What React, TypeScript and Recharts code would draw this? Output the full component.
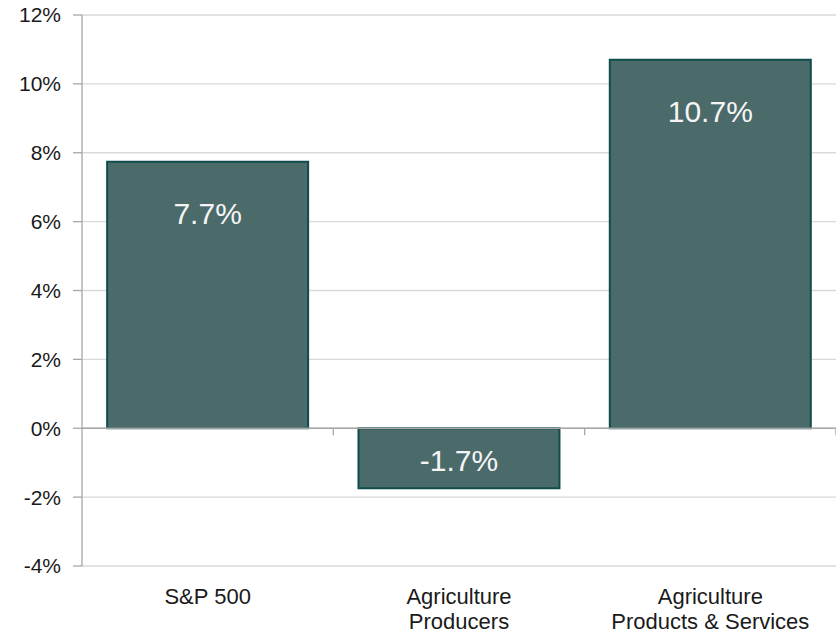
import React from 'react';
import { BarChart, Bar, XAxis, YAxis, CartesianGrid, ReferenceLine, LabelList } from 'recharts';

const categories = ['S&P 500', 'Agriculture\nProducers', 'Agriculture\nProducts & Services'];
const returns = [7.74, -1.74, 10.7];
const yTicks = [-4, -2, 0, 2, 4, 6, 8, 10, 12];

const data = categories.map((name, i) => ({ name, value: returns[i] }));

const FONT = '"Liberation Sans", Arial, sans-serif';
const AXIS_GRAY = '#a6a6a6';

const CategoryTick = (props: any) => {
  const { x, y, payload } = props;
  const lines = String(payload.value).split('\n');
  return (
    <text x={x} y={y} textAnchor="middle" fontFamily={FONT} fontSize={22} fill="#1a1a1a">
      {lines.map((l, i) => (
        <tspan key={i} x={x} dy={i === 0 ? 30 : 25}>
          {l}
        </tspan>
      ))}
    </text>
  );
};

const ZeroAxis = (props: any) => {
  const { x1, y1, x2 } = props;
  const n = categories.length;
  const step = (x2 - x1) / n;
  const ticks = [];
  for (let k = 1; k <= n; k++) ticks.push(x1 + step * k);
  return (
    <g>
      <line x1={x1} y1={y1} x2={x2} y2={y1} stroke={AXIS_GRAY} strokeWidth={1.3} />
      {ticks.map((tx, i) => (
        <line key={i} x1={tx} y1={y1} x2={tx} y2={y1 + 7} stroke={AXIS_GRAY} strokeWidth={1.3} />
      ))}
    </g>
  );
};

const BarLabel = (props: any) => {
  const { x, y, width, height, value } = props;
  const top = Math.min(y, y + height);
  const h = Math.abs(height);
  const cy = value >= 0 ? top + 52 : top + h / 2 + 2;
  return (
    <text
      x={x + width / 2}
      y={cy}
      textAnchor="middle"
      dominantBaseline="central"
      fontFamily={FONT}
      fontSize={30}
      fill="#f5f5f5"
    >
      {`${Number(value).toFixed(1)}%`}
    </text>
  );
};

export default function App() {
  return (
    <div style={{ position: 'absolute', left: 0, top: 0, background: '#fff' }}>
      <BarChart
        width={836}
        height={633}
        data={data}
        margin={{ top: 15, right: 0, bottom: 0, left: 0 }}
        barCategoryGap="10%"
      >
        <CartesianGrid vertical={false} stroke="#d9d9d9" strokeWidth={1.3} />
        <XAxis
          dataKey="name"
          axisLine={false}
          tickLine={false}
          height={67}
          interval={0}
          tick={<CategoryTick />}
        />
        <YAxis
          width={82}
          domain={[-4, 12]}
          ticks={yTicks}
          interval={0}
          tickFormatter={(v: number) => `${v}%`}
          axisLine={{ stroke: AXIS_GRAY, strokeWidth: 1.3 }}
          tickLine={{ stroke: AXIS_GRAY, strokeWidth: 1.3 }}
          tickSize={9}
          tickMargin={12}
          tick={{ fontFamily: FONT, fontSize: 21, fill: '#1a1a1a' }}
        />
        <Bar dataKey="value" fill="#4b6a6a" stroke="#0f4d4d" strokeWidth={2} isAnimationActive={false}>
          <LabelList dataKey="value" content={<BarLabel />} />
        </Bar>
        <ReferenceLine y={0} shape={<ZeroAxis />} />
      </BarChart>
    </div>
  );
}
